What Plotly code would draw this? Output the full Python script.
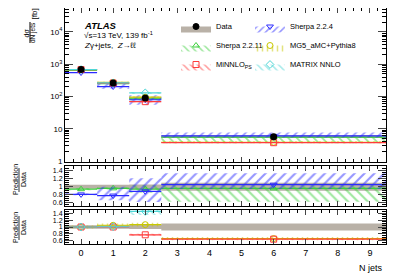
import plotly.graph_objects as go

# ---------------- data ----------------
bin_lo = [-0.5, 0.5, 1.5, 2.5]
bin_hi = [0.5, 1.5, 2.5, 9.5]
bin_center = [0, 1, 2, 6]
x_ticks = [0, 1, 2, 3, 4, 5, 6, 7, 8, 9]

data_xs = [680, 260, 89, 5.7]
data_unc = [0.05, 0.05, 0.06, 0.10]

sherpa224 = [551, 203, 79, 6.0]
sherpa224_up = [0.03, 0.28, 0.37, 0.27]
sherpa224_dn = [0.03, 0.15, 0.30, 0.10]
sherpa2211 = [639, 250, 84, 5.47]
sherpa2211_up = [0.03, 0.03, 0.10, 0.08]
sherpa2211_dn = [0.03, 0.03, 0.10, 0.35]
minnlo = [680, 260, 69, 3.7]
minnlo_up = [0.03, 0.03, 0.04, 0.03]
minnlo_dn = [0.03, 0.03, 0.04, 0.03]
mg5 = [680, 273, 95, 3.8]
mg5_up = [0.04, 0.05, 0.05, 0.07]
mg5_dn = [0.04, 0.05, 0.05, 0.07]
matrix = [680, 262, 129, None]
matrix_up = [0.02, 0.03, 0.07, None]
matrix_dn = [0.02, 0.03, 0.07, None]

C_BLUE = "#2b2bff"
C_GREEN = "#3ccf3c"
C_RED = "#ff3b3b"
C_YEL = "#c8c800"
C_CYAN = "#4fd6d6"
C_GREY = "#b9b1a7"

FONT = "Liberation Sans, Arial, sans-serif"

fig = go.Figure()

XA = {"y": "x", "y2": "x2", "y3": "x3"}


def rect_poly(vals, up, dn, ratio_to=None):
    xs, ys = [], []
    for i, v in enumerate(vals):
        if v is None:
            continue
        c = v / ratio_to[i] if ratio_to else v
        lo, hi = c * (1 - dn[i]), c * (1 + up[i])
        xs += [bin_lo[i], bin_hi[i], bin_hi[i], bin_lo[i], bin_lo[i], None]
        ys += [lo, lo, hi, hi, lo, None]
    return xs, ys


def hlines(vals, ratio_to=None):
    xs, ys = [], []
    for i, v in enumerate(vals):
        if v is None:
            continue
        c = v / ratio_to[i] if ratio_to else v
        xs += [bin_lo[i], bin_hi[i], None]
        ys += [c, c, None]
    return xs, ys


def centers(vals, ratio_to=None):
    xs, ys = [], []
    for i, v in enumerate(vals):
        if v is None:
            continue
        xs.append(bin_center[i])
        ys.append(v / ratio_to[i] if ratio_to else v)
    return xs, ys


def add_pred(vals, up, dn, color, shape, symbol, yaxis, ratio_to=None, pat_size=6, sol=0.3):
    xa = XA[yaxis]
    xs, ys = rect_poly(vals, up, dn, ratio_to)
    fig.add_trace(go.Scatter(x=xs, y=ys, fill="toself", mode="none",
                             fillcolor="rgba(0,0,0,0)",
                             fillpattern=dict(shape=shape, fgcolor=color, bgcolor="rgba(0,0,0,0)",
                                              size=pat_size, solidity=sol),
                             showlegend=False, yaxis=yaxis, xaxis=xa))
    xs, ys = hlines(vals, ratio_to)
    fig.add_trace(go.Scatter(x=xs, y=ys, mode="lines", line=dict(color=color, width=1.2),
                             showlegend=False, yaxis=yaxis, xaxis=xa))
    xs, ys = centers(vals, ratio_to)
    fig.add_trace(go.Scatter(x=xs, y=ys, mode="markers",
                             marker=dict(symbol=symbol, size=6, color=color, line=dict(color=color, width=1)),
                             showlegend=False, yaxis=yaxis, xaxis=xa))


def add_data_band(yaxis, ratio=True):
    xs, ys = rect_poly(data_xs, data_unc, data_unc, data_xs if ratio else None)
    fig.add_trace(go.Scatter(x=xs, y=ys, fill="toself", mode="none", fillcolor=C_GREY,
                             showlegend=False, yaxis=yaxis, xaxis=XA[yaxis]))


# main panel
add_data_band("y", ratio=False)
add_pred(sherpa2211, sherpa2211_up, sherpa2211_dn, C_GREEN, "\\", "triangle-up-open", "y")
add_pred(sherpa224, sherpa224_up, sherpa224_dn, C_BLUE, "/", "triangle-down-open", "y")
add_pred(mg5, mg5_up, mg5_dn, C_YEL, "|", "circle-open", "y")
add_pred(minnlo, minnlo_up, minnlo_dn, C_RED, "\\", "square-open", "y")
add_pred(matrix, matrix_up, matrix_dn, C_CYAN, "\\", "diamond-open", "y")
fig.add_trace(go.Scatter(x=bin_center, y=data_xs, mode="markers",
                         marker=dict(symbol="circle", size=7, color="black"),
                         showlegend=False, xaxis="x", yaxis="y"))

# ratio panel 1 (Sherpa)
add_data_band("y2")
add_pred(sherpa2211, sherpa2211_up, sherpa2211_dn, C_GREEN, "\\", "triangle-up-open", "y2", data_xs, 7, 0.3)
add_pred(sherpa224, sherpa224_up, sherpa224_dn, C_BLUE, "/", "triangle-down-open", "y2", data_xs, 7, 0.3)

# ratio panel 2 (others)
add_data_band("y3")
add_pred(mg5, mg5_up, mg5_dn, C_YEL, "|", "circle-open", "y3", data_xs, 5)
add_pred(minnlo, minnlo_up, minnlo_dn, C_RED, "\\", "square-open", "y3", data_xs, 5)
add_pred(matrix, matrix_up, matrix_dn, C_CYAN, "\\", "diamond-open", "y3", data_xs, 5)


# legend entries
def leg(name, color, shape, symbol, legend, group, fill_solid=None):
    kw = dict(x=[None], y=[None], name=name, mode="markers", fill="toself",
              legend=legend, legendgroup=group,
              marker=dict(symbol=symbol, size=6, color=color, line=dict(color=color, width=1)))
    if fill_solid:
        kw["fillcolor"] = fill_solid
    else:
        kw["fillcolor"] = "rgba(0,0,0,0)"
        kw["fillpattern"] = dict(shape=shape, fgcolor=color, bgcolor="rgba(0,0,0,0)", size=5, solidity=0.3)
    fig.add_trace(go.Scatter(**kw))


leg("Data", "black", None, "circle", "legend", "a", fill_solid=C_GREY)
leg("Sherpa 2.2.11", C_GREEN, "\\", "triangle-up-open", "legend", "b")
leg("MiNNLO<sub>PS</sub>", C_RED, "\\", "square-open", "legend", "c")
leg("Sherpa 2.2.4", C_BLUE, "/", "triangle-down-open", "legend2", "d")
leg("MG5_aMC+Pythia8", C_YEL, "|", "circle-open", "legend2", "e")
leg("MATRIX NNLO", C_CYAN, "\\", "diamond-open", "legend2", "f")

# page body has an 8px margin: compensate so the plot lands at the target pixels
OFF = 8
W, H = 407 - OFF, 276 - OFF
SL, SR, ST, SB = 65, 386, 8, 244          # plot area in screen pixels
ML, MT = SL - OFF, ST - OFF
MR = W - (SR - OFF)
MB = H - (SB - OFF)
PW, PH = SR - SL, SB - ST


def px(x):
    return (x - SL) / PW


def py(y):
    return (SB - y) / PH


axis_common = dict(showline=True, linecolor="black", linewidth=1, mirror="allticks",
                   ticks="inside", showgrid=False, zeroline=False,
                   tickfont=dict(family=FONT, size=8, color="black"))

xcommon = dict(axis_common, range=[-0.5, 9.5], tickvals=x_ticks, ticklen=5,
               minor=dict(ticks="inside", ticklen=3, dtick=0.25, tick0=0, tickcolor="black"))

log_minor = [m * 10 ** d for d in range(0, 5) for m in range(2, 10)]
rfont = dict(family=FONT, size=7, color="black")

fig.update_layout(
    width=W, height=H,
    margin=dict(l=ML, r=MR, t=MT, b=MB, autoexpand=False),
    paper_bgcolor="white", plot_bgcolor="white",
    font=dict(family=FONT, size=8, color="black"),
    xaxis=dict(xcommon, anchor="y", showticklabels=False),
    xaxis2=dict(xcommon, anchor="y2", matches="x", showticklabels=False),
    xaxis3=dict(xcommon, anchor="y3", matches="x", showticklabels=True,
                tickfont=dict(family=FONT, size=9, color="black")),
    yaxis=dict(axis_common, type="log", domain=[py(162), 1], anchor="x",
               range=[-0.03, 4.74], tickvals=[1, 10, 100, 1000, 10000],
               ticktext=["1", "10", "10<sup>2</sup>", "10<sup>3</sup>", "10<sup>4</sup>"],
               ticklen=8, minor=dict(ticks="inside", ticklen=4, tickvals=log_minor,
                                     tickcolor="black", showgrid=False)),
    yaxis2=dict(axis_common, domain=[py(206), py(166)], anchor="x2", range=[0.52, 1.52],
                tickvals=[0.6, 0.8, 1, 1.2, 1.4], ticktext=["0.6", "0.8", "1", "1.2", "1.4"],
                ticklen=8, tickfont=rfont,
                minor=dict(ticks="inside", ticklen=4, dtick=0.05, tickcolor="black")),
    yaxis3=dict(axis_common, domain=[0, py(210)], anchor="x3", range=[0.51, 1.49],
                tickvals=[0.6, 0.8, 1, 1.2, 1.4], ticktext=["0.6", "0.8", "1", "1.2", "1.4"],
                ticklen=8, tickfont=rfont,
                minor=dict(ticks="inside", ticklen=4, dtick=0.05, tickcolor="black")),
    legend=dict(x=px(176), y=py(12), xanchor="left", yanchor="top", bgcolor="rgba(0,0,0,0)",
                font=dict(family=FONT, size=7.5), tracegroupgap=0, itemwidth=30,
                traceorder="grouped"),
    legend2=dict(x=px(250), y=py(12), xanchor="left", yanchor="top", bgcolor="rgba(0,0,0,0)",
                 font=dict(family=FONT, size=7.5), tracegroupgap=0, itemwidth=30,
                 traceorder="grouped"),
)

ann = [
    dict(x=px(82), y=py(25), text="<b><i>ATLAS</i></b>", size=9.5),
    dict(x=px(82), y=py(35), text="√s=13 TeV, 139 fb<sup>-1</sup>", size=8),
    dict(x=px(82), y=py(45), text="<i>Z</i>γ+jets,  <i>Z</i>→ℓℓ", size=8),
]
ann = [dict(xref="paper", yref="paper", xanchor="left", yanchor="middle", showarrow=False,
            x=a["x"], y=a["y"], text=a["text"],
            font=dict(family=FONT, size=a["size"], color="black")) for a in ann]

rot = dict(xref="paper", yref="paper", showarrow=False, textangle=-90,
           xanchor="center", yanchor="middle")
ann += [
    dict(rot, x=px(26), y=py(33.5), text="dσ", font=dict(family=FONT, size=7, color="black")),
    dict(rot, x=px(33.5), y=py(32.5), text="dN jets", font=dict(family=FONT, size=6.5, color="black")),
    dict(rot, x=px(33.5), y=py(14), text="[fb]", font=dict(family=FONT, size=8, color="black")),
    dict(rot, x=px(15), y=py(180), text="Prediction", font=dict(family=FONT, size=7, color="black")),
    dict(rot, x=px(23), y=py(180), text="Data", font=dict(family=FONT, size=7, color="black")),
    dict(rot, x=px(15), y=py(228), text="Prediction", font=dict(family=FONT, size=7, color="black")),
    dict(rot, x=px(23), y=py(228), text="Data", font=dict(family=FONT, size=7, color="black")),
    dict(xref="paper", yref="paper", showarrow=False, x=px(385), y=py(268),
         xanchor="right", yanchor="middle", text="N jets", font=dict(family=FONT, size=9, color="black")),
]
fig.update_layout(annotations=ann)

shapes = [
    dict(type="line", xref="paper", yref="paper", x0=px(30), x1=px(30), y0=py(22), y1=py(43),
         line=dict(color="black", width=1)),
    dict(type="line", xref="paper", yref="paper", x0=px(19), x1=px(19), y0=py(168), y1=py(192),
         line=dict(color="black", width=0.8)),
    dict(type="line", xref="paper", yref="paper", x0=px(19), x1=px(19), y0=py(216), y1=py(240),
         line=dict(color="black", width=0.8)),
]
fig.update_layout(shapes=shapes)

fig.write_html("out.html")
